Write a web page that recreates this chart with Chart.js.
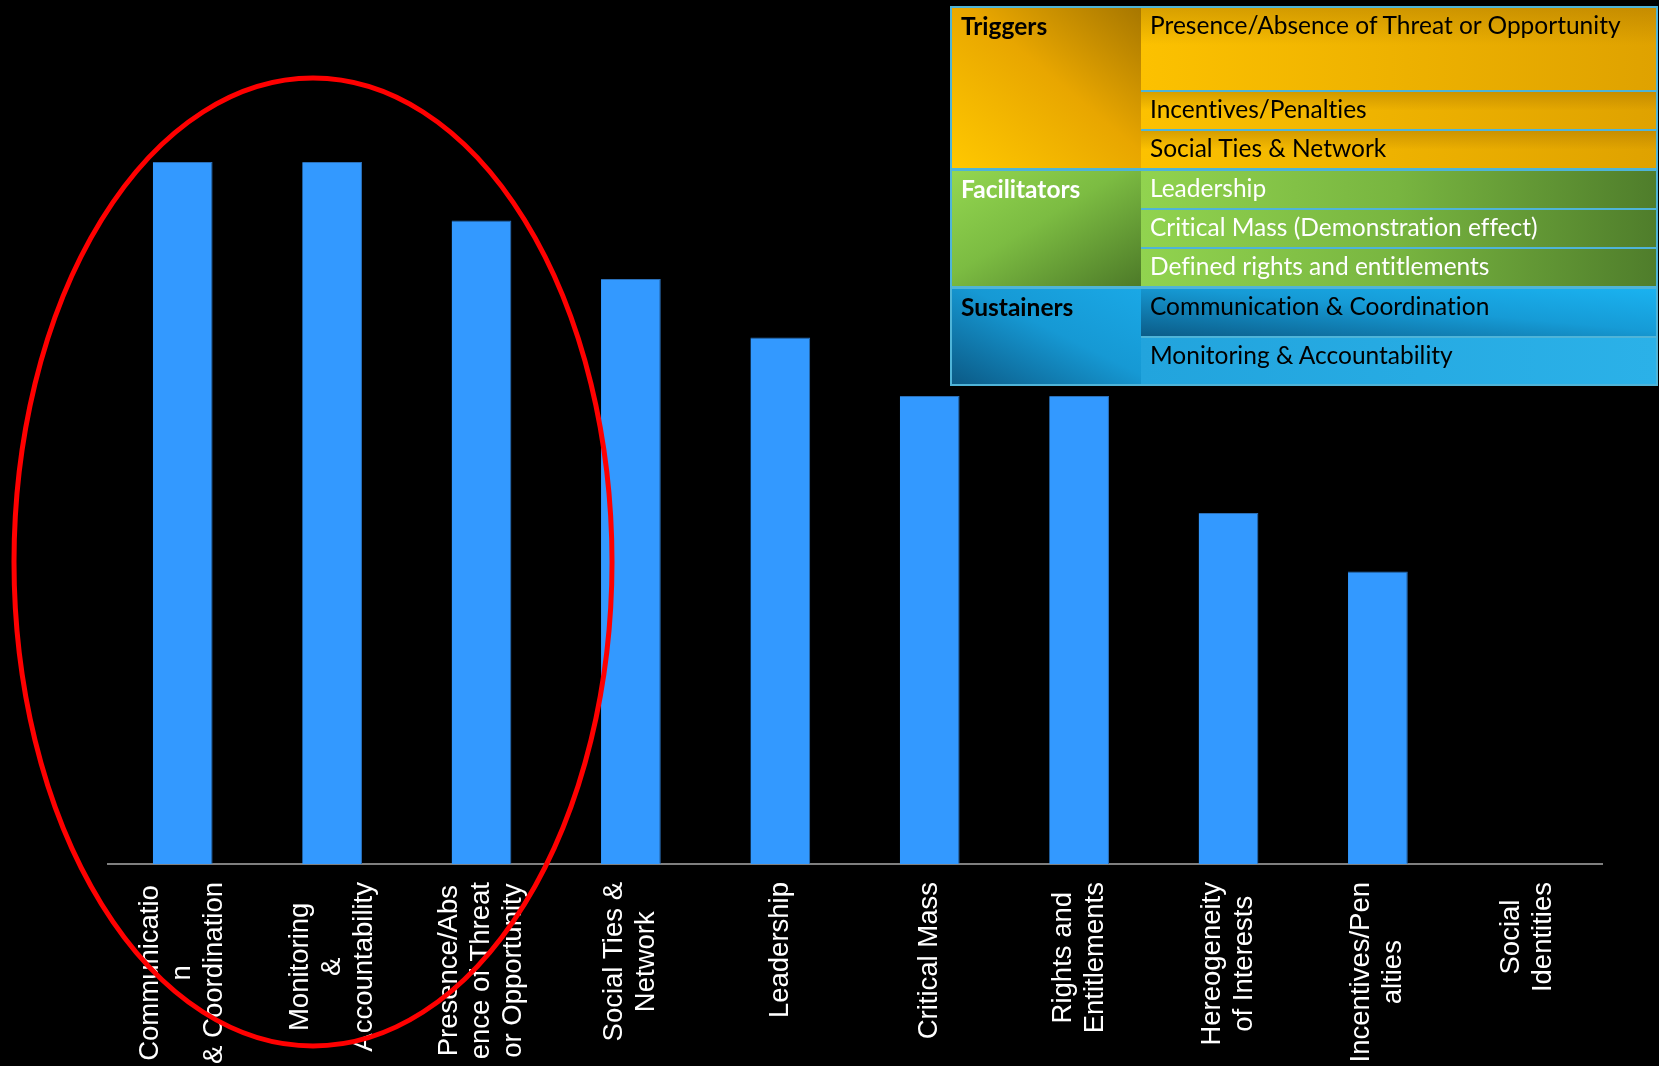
<!DOCTYPE html>
<html>
<head>
<meta charset="utf-8">
<script src="https://cdn.jsdelivr.net/npm/chart.js@4.4.0/dist/chart.umd.min.js"></script>
<style>
  html, body { margin: 0; padding: 0; background: #000; }
  #wrap { position: relative; width: 1659px; height: 1066px; overflow: hidden; }
  #canvas { position: absolute; left: 0; top: 0; }
  #key { position: absolute; left: 950px; top: 6px; width: 704px; border: 2px solid #4fb4d8;
         font-family: Lato, "Open Sans", sans-serif; font-size: 24.5px; line-height: 28px;
         font-variant-ligatures: none; }
  .grp { display: flex; border-top: 3px solid #4fb4d8; }
  .grp:first-child { border-top: none; }
  .head { width: 189px; box-sizing: border-box; padding: 4px 0 0 9px; font-weight: bold; }
  .items { flex: 1; }
  .item { box-sizing: border-box; padding: 3px 0 0 9px; border-top: 2px solid #4fb4d8; }
  .item:first-child { border-top: none; }
</style>
</head>
<body>
<div id="wrap">
  <canvas id="canvas" width="1659" height="1066"></canvas>
  <div id="key"></div>
</div>
<script>
// x axis categories (each one already split the way the picture wraps it)
const categories = [
  ['Communicatio', 'n', '& Coordination'],
  ['Monitoring', '&', 'Accountability'],
  ['Presence/Abs', 'ence of Threat', 'or Opportunity'],
  ['Social Ties &', 'Network'],
  ['Leadership'],
  ['Critical Mass'],
  ['Rights and', 'Entitlements'],
  ['Hereogeneity', 'of Interests'],
  ['Incentives/Pen', 'alties'],
  ['Social', 'Identities']
];
const counts = [12, 12, 11, 10, 9, 8, 8, 6, 5, 0];

// key table in the top right corner
const groups = ['Triggers', 'Facilitators', 'Sustainers'];
const groupItems = [
  ['Presence/Absence of Threat or Opportunity', 'Incentives/Penalties', 'Social Ties & Network'],
  ['Leadership', 'Critical Mass (Demonstration effect)', 'Defined rights and entitlements'],
  ['Communication & Coordination', 'Monitoring & Accountability']
];

// looks for the key
const headStyle = [
  'background:linear-gradient(to top right,#ffc800 0%,#e8a600 55%,#a77700 100%);color:#000',
  'background:linear-gradient(to bottom right,#93d650 0%,#7cbc42 45%,#4d7a28 100%);color:#fff',
  'background:linear-gradient(to top right,#0b5a86 0%,#1699d4 55%,#1aa8e6 100%);color:#000'
];
const itemStyle = [
  ['background:linear-gradient(to bottom,rgba(150,100,0,.35),rgba(0,0,0,0) 45%),linear-gradient(to right,#fcc100,#dfa200);color:#000;height:82px',
   'background:linear-gradient(to bottom,rgba(150,100,0,.35),rgba(0,0,0,0) 50%),linear-gradient(to right,#fcc100,#dfa200);color:#000;height:39px',
   'background:linear-gradient(to bottom,rgba(150,100,0,.35),rgba(0,0,0,0) 50%),linear-gradient(to right,#fcc100,#dfa200);color:#000;height:39px'],
  ['background:linear-gradient(to right,#91d34f,#78b540 50%,#4f7d2b);color:#fff;height:37px',
   'background:linear-gradient(to right,#91d34f,#78b540 50%,#4f7d2b);color:#fff;height:39px',
   'background:linear-gradient(to right,#91d34f,#78b540 50%,#4f7d2b);color:#fff;height:39px'],
  ['background:linear-gradient(to top right,#0b5c88,#169bd6 55%,#1ab2f0);color:#000;height:47px',
   'background:linear-gradient(to right,#22a4dd,#2bb1e8);color:#000;height:48px']
];

let html = '';
groups.forEach(function (g, i) {
  html += '<div class="grp"><div class="head" style="' + headStyle[i] + '">' + g + '</div><div class="items">';
  groupItems[i].forEach(function (t, j) {
    html += '<div class="item" style="' + itemStyle[i][j] + '">' + t.replace('&', '&amp;') + '</div>';
  });
  html += '</div></div>';
});
document.getElementById('key').innerHTML = html;

// rotated, centred multi-line category labels
const verticalLabels = {
  id: 'verticalLabels',
  afterDraw(chart) {
    const ctx = chart.ctx;
    const x = chart.scales.x;
    const top = chart.chartArea.bottom + 18;
    ctx.save();
    ctx.font = '27.5px "Liberation Sans", Arial, sans-serif';
    ctx.fillStyle = '#fff';
    ctx.textAlign = 'center';
    ctx.textBaseline = 'middle';
    categories.forEach(function (lines, i) {
      const maxW = Math.max.apply(null, lines.map(function (l) { return ctx.measureText(l).width; }));
      ctx.save();
      ctx.translate(x.getPixelForTick(i), top);
      ctx.rotate(-Math.PI / 2);
      lines.forEach(function (l, j) {
        ctx.fillText(l, -maxW / 2, (j - (lines.length - 1) / 2) * 32);
      });
      ctx.restore();
    });
    ctx.restore();
  }
};

// red ring around the first three bars
const ring = {
  id: 'ring',
  afterDraw(chart) {
    const ctx = chart.ctx;
    ctx.save();
    ctx.strokeStyle = '#ff0000';
    ctx.lineWidth = 5;
    ctx.beginPath();
    ctx.ellipse(313, 562, 299, 484, 0, 0, Math.PI * 2);
    ctx.stroke();
    ctx.restore();
  }
};

new Chart(document.getElementById('canvas'), {
  type: 'bar',
  data: {
    labels: categories,
    datasets: [{
      data: counts,
      backgroundColor: '#3399ff',
      borderColor: '#2a6fb8',
      borderWidth: { left: 0, right: 1, top: 1, bottom: 0 },
      barPercentage: 0.4,
      categoryPercentage: 1
    }]
  },
  options: {
    responsive: false,
    animation: false,
    layout: { padding: { left: 108, right: 57, top: 45, bottom: 202 } },
    plugins: { legend: { display: false }, tooltip: { enabled: false } },
    scales: {
      x: {
        grid: { display: false, drawTicks: false },
        border: { display: true, color: '#7f7f7f', width: 2 },
        ticks: { display: false }
      },
      y: { display: false, min: 0, max: 14 }
    }
  },
  plugins: [verticalLabels, ring]
});
</script>
</body>
</html>
